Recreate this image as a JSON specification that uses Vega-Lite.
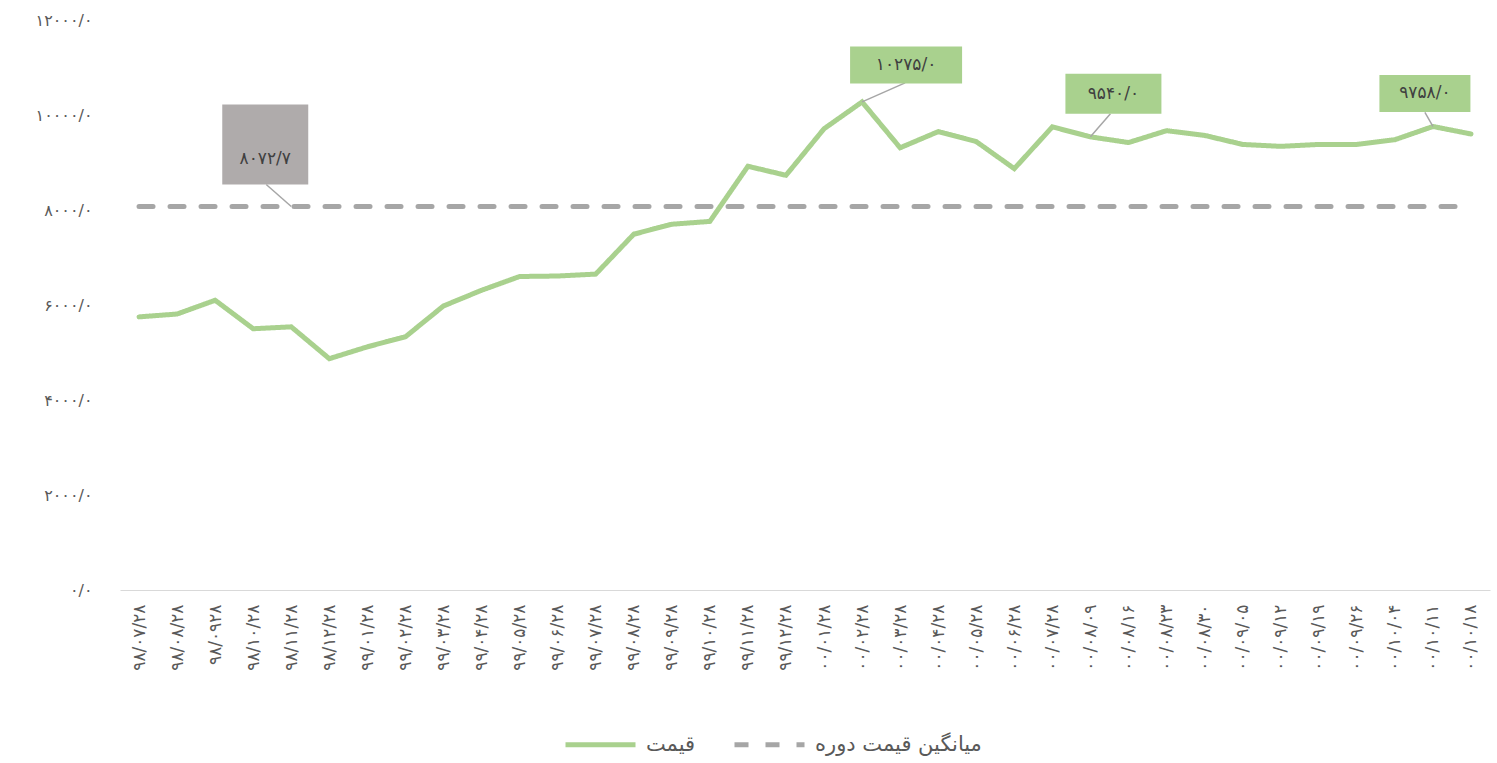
{
  "$schema": "https://vega.github.io/schema/vega-lite/v6.json",
  "width": 1370,
  "height": 570,
  "autosize": {"type": "none"},
  "padding": {"left": 120, "top": 20, "right": 7, "bottom": 173},
  "background": "white",
  "config": {"font": "DejaVu Sans", "view": {"stroke": null}},
  "data": {"values": [
    {"date": "۹۸/۰۷/۲۸", "price": 5750, "avg": 8072.7},
    {"date": "۹۸/۰۸/۲۸", "price": 5810, "avg": 8072.7},
    {"date": "۹۸/۰۹۲۸", "price": 6100, "avg": 8072.7},
    {"date": "۹۸/۱۰/۲۸", "price": 5500, "avg": 8072.7},
    {"date": "۹۸/۱۱/۲۸", "price": 5540, "avg": 8072.7, "note": "۸۰۷۲/۷"},
    {"date": "۹۸/۱۲/۲۸", "price": 4870, "avg": 8072.7},
    {"date": "۹۹/۰۱/۲۸", "price": 5120, "avg": 8072.7},
    {"date": "۹۹/۰۲/۲۸", "price": 5330, "avg": 8072.7},
    {"date": "۹۹/۰۳/۲۸", "price": 5980, "avg": 8072.7},
    {"date": "۹۹/۰۴/۲۸", "price": 6310, "avg": 8072.7},
    {"date": "۹۹/۰۵/۲۸", "price": 6600, "avg": 8072.7},
    {"date": "۹۹/۰۶/۲۸", "price": 6610, "avg": 8072.7},
    {"date": "۹۹/۰۷/۲۸", "price": 6650, "avg": 8072.7},
    {"date": "۹۹/۰۸/۲۸", "price": 7490, "avg": 8072.7},
    {"date": "۹۹/۰۹/۲۸", "price": 7700, "avg": 8072.7},
    {"date": "۹۹/۱۰/۲۸", "price": 7760, "avg": 8072.7},
    {"date": "۹۹/۱۱/۲۸", "price": 8920, "avg": 8072.7},
    {"date": "۹۹/۱۲/۲۸", "price": 8730, "avg": 8072.7},
    {"date": "۰۰/۰۱/۲۸", "price": 9710, "avg": 8072.7},
    {"date": "۰۰/۰۲/۲۸", "price": 10275, "avg": 8072.7, "note": "۱۰۲۷۵/۰"},
    {"date": "۰۰/۰۳/۲۸", "price": 9310, "avg": 8072.7},
    {"date": "۰۰/۰۴/۲۸", "price": 9650, "avg": 8072.7},
    {"date": "۰۰/۰۵/۲۸", "price": 9440, "avg": 8072.7},
    {"date": "۰۰/۰۶/۲۸", "price": 8870, "avg": 8072.7},
    {"date": "۰۰/۰۷/۲۸", "price": 9750, "avg": 8072.7},
    {"date": "۰۰/۰۸/۰۹", "price": 9540, "avg": 8072.7, "note": "۹۵۴۰/۰"},
    {"date": "۰۰/۰۸/۱۶", "price": 9420, "avg": 8072.7},
    {"date": "۰۰/۰۸/۲۳", "price": 9670, "avg": 8072.7},
    {"date": "۰۰/۰۸/۳۰", "price": 9570, "avg": 8072.7},
    {"date": "۰۰/۰۹/۰۵", "price": 9380, "avg": 8072.7},
    {"date": "۰۰/۰۹/۱۲", "price": 9340, "avg": 8072.7},
    {"date": "۰۰/۰۹/۱۹", "price": 9380, "avg": 8072.7},
    {"date": "۰۰/۰۹/۲۶", "price": 9380, "avg": 8072.7},
    {"date": "۰۰/۱۰/۰۴", "price": 9480, "avg": 8072.7},
    {"date": "۰۰/۱۰/۱۱", "price": 9758, "avg": 8072.7, "note": "۹۷۵۸/۰"},
    {"date": "۰۰/۱۰/۱۸", "price": 9600, "avg": 8072.7}
  ]},
  "layer": [
    {
      "transform": [{"fold": ["avg", "price"], "as": ["key", "value"]}],
      "mark": {"type": "line", "strokeWidth": 5, "strokeCap": "round"},
      "encoding": {
        "x": {"field": "date", "type": "ordinal", "sort": null, "title": null,
              "scale": {"type": "point", "padding": 0.5},
              "axis": {"labelAngle": -90, "labelFontSize": 17, "labelColor": "#595959", "ticks": false,
                       "labelPadding": 14, "domainColor": "#D9D9D9", "domainWidth": 1, "grid": false}},
        "y": {"field": "value", "type": "quantitative", "title": null,
              "scale": {"domain": [0, 12000], "nice": false},
              "axis": {"values": [0, 2000, 4000, 6000, 8000, 10000, 12000], "domain": false, "ticks": false, "grid": false,
                       "labelFontSize": 16, "labelColor": "#595959", "labelPadding": 28,
                       "labelExpr": "replace(replace(replace(replace(replace(replace(replace(format(datum.value,'.1f'),regexp('0','g'),'۰'),regexp('1','g'),'۱'),regexp('2','g'),'۲'),regexp('4','g'),'۴'),regexp('6','g'),'۶'),regexp('8','g'),'۸'),'.','/')"}},
        "color": {"field": "key", "type": "nominal",
                  "scale": {"domain": ["price", "avg"], "range": ["#A9D18E", "#A6A6A6"]},
                  "legend": {"title": null, "orient": "none", "legendX": 443, "legendY": 687, "direction": "horizontal",
                             "labelExpr": "datum.label == 'price' ? 'قیمت' : 'میانگین قیمت دوره'",
                             "symbolType": "stroke", "symbolSize": 4900, "symbolStrokeWidth": 5, "labelLimit": 400,
                             "labelFontSize": 21, "labelColor": "#595959", "columnPadding": 28, "labelOffset": 8}},
        "strokeDash": {"field": "key", "type": "nominal",
                       "scale": {"domain": ["price", "avg"], "range": [[1, 0], [14, 17]]},
                       "legend": {"title": null, "orient": "none", "legendX": 443, "legendY": 687, "direction": "horizontal",
                             "labelExpr": "datum.label == 'price' ? 'قیمت' : 'میانگین قیمت دوره'",
                             "symbolType": "stroke", "symbolSize": 4900, "symbolStrokeWidth": 5, "labelLimit": 400,
                             "labelFontSize": 21, "labelColor": "#595959", "columnPadding": 28, "labelOffset": 8}}
      }
    },
    {
      "transform": [{"filter": "datum.note == '۸۰۷۲/۷'"}],
      "encoding": {
        "x": {"field": "date", "type": "ordinal", "sort": null, "title": null},
        "y": {"field": "avg", "type": "quantitative", "title": null}
      },
      "layer": [
        {"mark": {"type": "rule", "color": "#A6A6A6", "strokeWidth": 1.5, "x2Offset": -25, "y2Offset": -22},
         "encoding": {"x2": {"field": "date"}, "y2": {"field": "avg"}}},
        {"mark": {"type": "point", "shape": "M-1,-0.93H1V0.93H-1Z", "size": 7396, "filled": true, "fill": "#AFABAB", "opacity": 1, "strokeWidth": 0, "xOffset": -26, "yOffset": -62}},
        {"mark": {"type": "text", "fontSize": 17, "color": "#404040", "align": "center", "baseline": "middle", "xOffset": -26, "yOffset": -48},
         "encoding": {"text": {"field": "note"}}}
      ]
    },
    {
      "transform": [{"filter": "datum.note == '۱۰۲۷۵/۰'"}],
      "encoding": {
        "x": {"field": "date", "type": "ordinal", "sort": null, "title": null},
        "y": {"field": "price", "type": "quantitative", "title": null}
      },
      "layer": [
        {"mark": {"type": "rule", "color": "#A6A6A6", "strokeWidth": 1.5, "x2Offset": 43, "y2Offset": -19},
         "encoding": {"x2": {"field": "date"}, "y2": {"field": "price"}}},
        {"mark": {"type": "point", "shape": "M-1,-0.33H1V0.33H-1Z", "size": 12544, "filled": true, "fill": "#A9D18E", "opacity": 1, "strokeWidth": 0, "xOffset": 44, "yOffset": -37}},
        {"mark": {"type": "text", "fontSize": 17, "color": "#404040", "align": "center", "baseline": "middle", "xOffset": 44, "yOffset": -37},
         "encoding": {"text": {"field": "note"}}}
      ]
    },
    {
      "transform": [{"filter": "datum.note == '۹۵۴۰/۰'"}],
      "encoding": {
        "x": {"field": "date", "type": "ordinal", "sort": null, "title": null},
        "y": {"field": "price", "type": "quantitative", "title": null}
      },
      "layer": [
        {"mark": {"type": "rule", "color": "#A6A6A6", "strokeWidth": 1.5, "x2Offset": 20, "y2Offset": -23},
         "encoding": {"x2": {"field": "date"}, "y2": {"field": "price"}}},
        {"mark": {"type": "point", "shape": "M-1,-0.417H1V0.417H-1Z", "size": 9216, "filled": true, "fill": "#A9D18E", "opacity": 1, "strokeWidth": 0, "xOffset": 23, "yOffset": -43}},
        {"mark": {"type": "text", "fontSize": 17, "color": "#404040", "align": "center", "baseline": "middle", "xOffset": 23, "yOffset": -43},
         "encoding": {"text": {"field": "note"}}}
      ]
    },
    {
      "transform": [{"filter": "datum.note == '۹۷۵۸/۰'"}],
      "encoding": {
        "x": {"field": "date", "type": "ordinal", "sort": null, "title": null},
        "y": {"field": "price", "type": "quantitative", "title": null}
      },
      "layer": [
        {"mark": {"type": "rule", "color": "#A6A6A6", "strokeWidth": 1.5, "x2Offset": -8, "y2Offset": -14},
         "encoding": {"x2": {"field": "date"}, "y2": {"field": "price"}}},
        {"mark": {"type": "point", "shape": "M-1,-0.407H1V0.407H-1Z", "size": 8281, "filled": true, "fill": "#A9D18E", "opacity": 1, "strokeWidth": 0, "xOffset": -8, "yOffset": -33}},
        {"mark": {"type": "text", "fontSize": 17, "color": "#404040", "align": "center", "baseline": "middle", "xOffset": -8, "yOffset": -33},
         "encoding": {"text": {"field": "note"}}}
      ]
    }
  ]
}
